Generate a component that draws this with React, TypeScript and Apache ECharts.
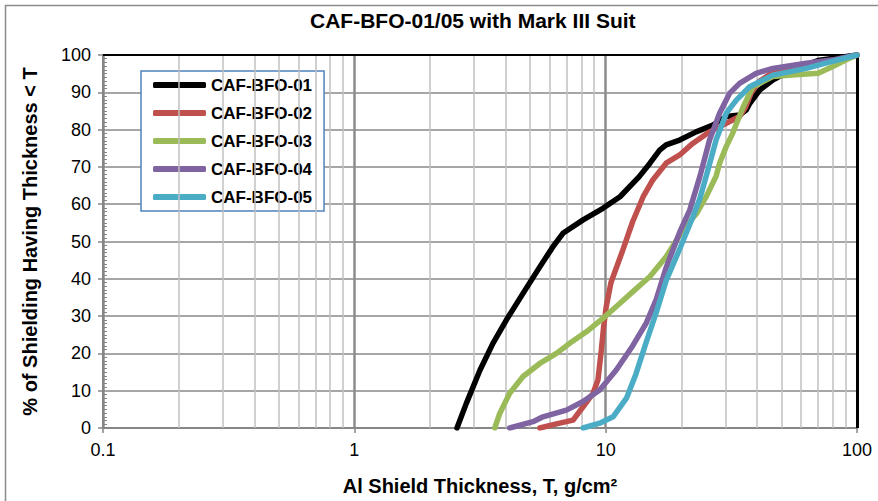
import React, { useEffect, useRef } from "react";
import * as echarts from "echarts";

const seriesNames = ["CAF-BFO-01", "CAF-BFO-02", "CAF-BFO-03", "CAF-BFO-04", "CAF-BFO-05"];
const seriesColors = ["#000000", "#C0504D", "#9BBB59", "#8064A2", "#4BACC6"];

const x01 = [2.56, 2.79, 3.16, 3.56, 4.03, 4.69, 5.47, 6.17, 6.76, 8.13, 9.75, 11.4, 13.6, 15.0, 16.4, 17.4, 19.7, 22.9, 26.7, 30.2, 34.1, 36.3, 37.4, 41, 46.2, 55, 70, 100];
const y01 = [0, 6.6, 15.5, 22.7, 29, 36.1, 43.2, 48.6, 52.2, 55.8, 58.9, 62.0, 67.4, 71, 74.5, 75.9, 77.2, 79.4, 81.2, 83.5, 83.9, 85.3, 87.0, 90.6, 93.3, 96, 98.5, 100];

const x02 = [5.47, 6.37, 7.42, 8.13, 8.91, 9.32, 9.61, 9.82, 10.05, 10.5, 11.7, 12.8, 14.1, 15.4, 17.4, 19.7, 22.2, 25.9, 30.2, 34.1, 36, 38, 41, 46, 60, 80, 100];
const y02 = [0, 1.1, 2.1, 5.7, 9.3, 12.9, 20.9, 27.2, 32.5, 39, 47.7, 55.3, 62, 66.5, 71, 73.2, 76.3, 79.4, 81.7, 83.5, 86, 90, 93, 95.2, 97, 98.5, 100];

const x03 = [3.62, 3.79, 4.15, 4.69, 5.47, 6.37, 7.19, 8.38, 9.75, 11.0, 12.8, 15.0, 17.4, 20.3, 23.0, 25.1, 27.5, 28.4, 30.2, 32.0, 33.1, 35.2, 38.5, 46.2, 53.3, 70.1, 80.1, 90.6, 100];
const y03 = [0, 3.9, 9.3, 13.8, 17.3, 20.0, 22.7, 25.8, 29.4, 32.5, 36.5, 40.6, 45.9, 53.1, 57.5, 62, 67.5, 71, 75.5, 79, 81.5, 86, 91.5, 94.2, 94.6, 95.1, 96.9, 98.7, 100];

const x04 = [4.15, 5.14, 5.63, 6.98, 8.13, 9.47, 11.0, 12.8, 14.5, 15.9, 17.4, 19.7, 21.6, 23.7, 25.9, 28.4, 31.1, 34.1, 39.7, 46.2, 62.8, 80.1, 100];
const y04 = [0, 1.7, 3.0, 4.8, 7.1, 10.2, 15.5, 22.0, 28.1, 34.5, 43, 52.5, 58.4, 67.4, 77.2, 84.4, 89.7, 92.4, 95.1, 96.4, 97.8, 98.7, 100];

const x05 = [8.13, 9.47, 10.7, 12.1, 13.2, 14.5, 15.9, 17.4, 19.7, 22.2, 23.7, 25.1, 27.5, 30.2, 33.1, 37.4, 46.2, 62.8, 75, 100];
const y05 = [0, 1.3, 3.0, 8, 14.5, 23, 31, 39.5, 48, 56.5, 61.5, 67.4, 77.2, 84.4, 87.9, 91.5, 94.6, 96.4, 97.8, 100];

const xTickValues = [0.1, 1, 10, 100];
const minorGridValues = [0.2, 0.3, 0.4, 0.5, 0.6, 0.7, 0.8, 0.9, 2, 3, 4, 5, 6, 7, 8, 9, 20, 30, 40, 50, 60, 70, 80, 90];

const titleText = "CAF-BFO-01/05 with Mark III Suit";
const xName = "Al Shield Thickness, T, g/cm²";
const yName = "% of Shielding Having Thickness < T";

const FONT = "Liberation Sans, Arial, sans-serif";

function pairs(xs: number[], ys: number[]) {
  return xs.map((x, i) => [x, ys[i]]);
}

export default function App() {
  const ref = useRef<HTMLDivElement>(null);
  useEffect(() => {
    if (!ref.current) return;
    const chart = echarts.init(ref.current, null, { renderer: "svg" });
    const allX = [x01, x02, x03, x04, x05];
    const allY = [y01, y02, y03, y04, y05];
    const lineSeries = seriesNames.map((name, i) => ({
      name,
      type: "line",
      data: pairs(allX[i], allY[i]),
      showSymbol: false,
      symbol: "none",
      color: seriesColors[i],
      itemStyle: { color: seriesColors[i] },
      lineStyle: { color: seriesColors[i], width: 5.5, cap: "round", join: "round" },
      z: 5 + i,
      silent: true,
    }));
    chart.setOption({
      animation: false,
      backgroundColor: "#ffffff",
      title: {
        text: titleText,
        left: 305,
        top: 5,
        textStyle: { fontFamily: FONT, fontSize: 21, fontWeight: "bold", color: "#000" },
      },
      legend: {
        orient: "vertical",
        left: 141,
        top: 71,
        data: seriesNames,
        icon: "roundRect",
        itemWidth: 53,
        itemHeight: 6,
        itemGap: 8,
        padding: [4, 12, 4, 12],
        borderColor: "#4F81BD",
        borderWidth: 1.5,
        backgroundColor: "#ffffff",
        textStyle: { fontFamily: FONT, fontSize: 17, fontWeight: "bold", color: "#000", lineHeight: 20 },
      },
      grid: { left: 103, right: 21, top: 55, bottom: 73, containLabel: false },
      xAxis: {
        type: "log",
        logBase: 10,
        min: 0.1,
        max: 100,
        name: xName,
        nameLocation: "middle",
        nameGap: 48,
        nameTextStyle: { fontFamily: FONT, fontSize: 20, fontWeight: "bold", color: "#000" },
        axisLine: { show: true, lineStyle: { color: "#868686", width: 2 } },
        axisTick: { show: true, length: 5, lineStyle: { color: "#868686", width: 1.5 } },
        axisLabel: {
          fontFamily: FONT,
          fontSize: 18,
          color: "#000",
          margin: 13,
          formatter: (v: number) => {
            const r = Number(v.toPrecision(3));
            return xTickValues.includes(r) ? String(r) : "";
          },
        },
        splitLine: { show: true, lineStyle: { color: "#8C8C8C", width: 2.5 } },
        minorTick: { show: false },
        minorSplitLine: { show: false },
      },
      yAxis: {
        type: "value",
        min: 0,
        max: 100,
        interval: 10,
        name: yName,
        nameLocation: "middle",
        nameGap: 63,
        nameTextStyle: { fontFamily: FONT, fontSize: 20, fontWeight: "bold", color: "#000" },
        axisLine: { show: true, lineStyle: { color: "#868686", width: 2 } },
        axisTick: { show: true, length: 5, lineStyle: { color: "#868686", width: 1.5 } },
        minorTick: { show: true, splitNumber: 10, length: -4, lineStyle: { color: "#868686", width: 1 } },
        axisLabel: { fontFamily: FONT, fontSize: 18, color: "#000", margin: 12 },
        splitLine: { show: true, lineStyle: { color: "#A6A6A6", width: 2 } },
      },
      graphic: [
        {
          type: "rect",
          shape: { x: 5.5, y: 5.5, width: 890, height: 510 },
          style: { fill: "none", stroke: "#8C8C8C", lineWidth: 1.5 },
          silent: true,
          z: -10,
        },
      ],
      series: [
        {
          name: "minorGrid",
          type: "line",
          data: [],
          symbol: "none",
          z: 1,
          silent: true,
          markLine: {
            silent: true,
            symbol: ["none", "none"],
            label: { show: false },
            lineStyle: { color: "#C0C0C0", width: 1.5, type: "solid" },
            data: minorGridValues.map((v) => ({ xAxis: v })),
          },
        },
        {
          name: "border",
          type: "line",
          data: [],
          symbol: "none",
          z: 3,
          silent: true,
          markLine: {
            silent: true,
            symbol: ["none", "none"],
            label: { show: false },
            data: [
              { yAxis: 100, lineStyle: { color: "#000", width: 2, type: "solid" } },
              { xAxis: 100, lineStyle: { color: "#000", width: 3, type: "solid" } },
            ],
          },
        },
        ...lineSeries,
      ],
    });
    return () => chart.dispose();
  }, []);
  return (
    <div
      ref={ref}
      style={{ position: "fixed", left: 0, top: 0, width: 878, height: 501, background: "#fff" }}
    />
  );
}
